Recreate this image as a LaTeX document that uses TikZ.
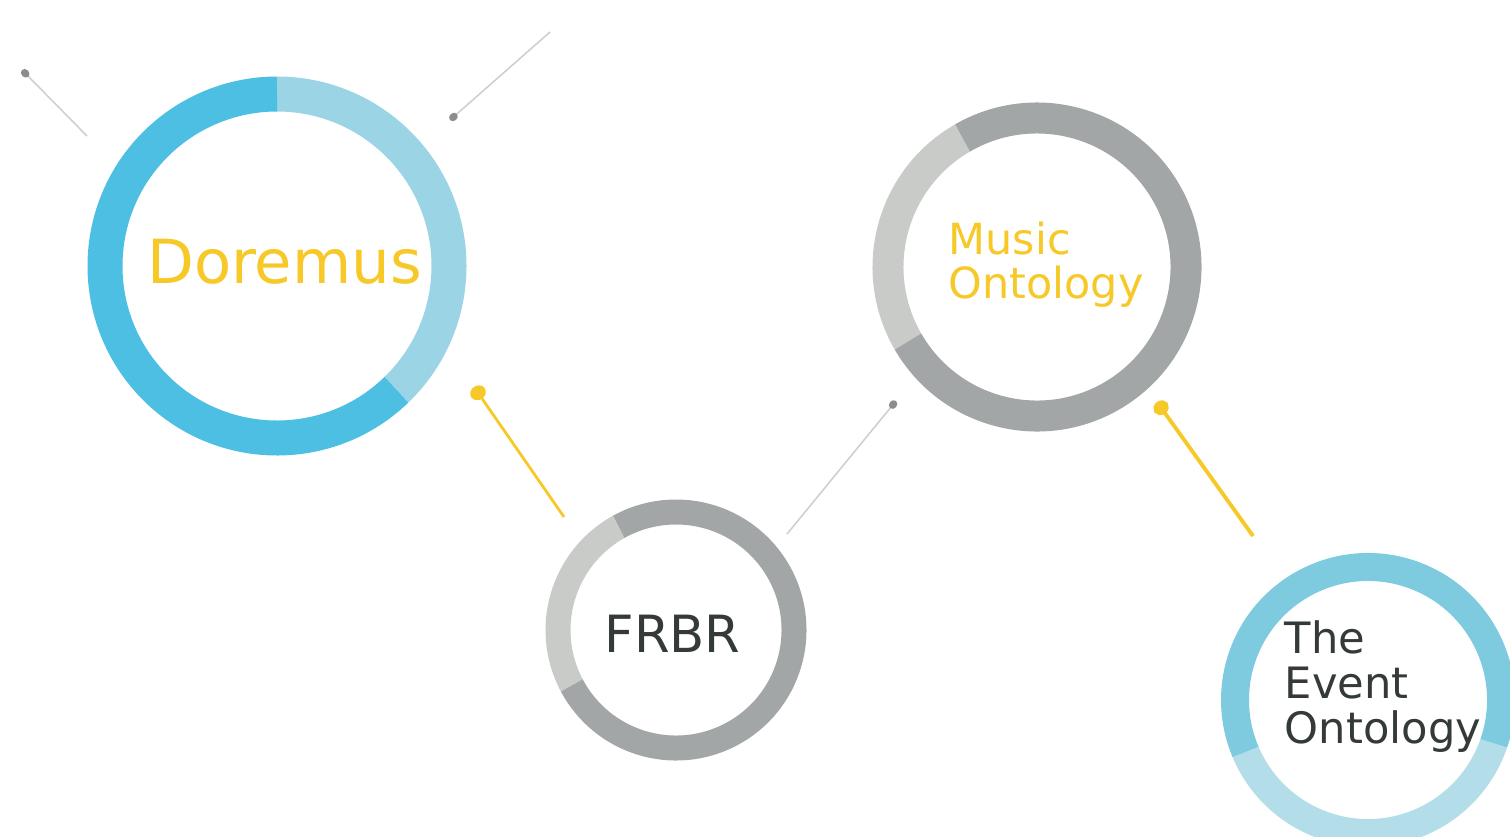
\documentclass[tikz,border=0pt]{standalone}
\usepackage{fontspec}
\setmainfont{DejaVu Sans}
\usetikzlibrary{arrows.meta}
\definecolor{bluedark}{HTML}{4DBFE2}
\definecolor{bluelight}{HTML}{9BD4E4}
\definecolor{greydark}{HTML}{A3A6A7}
\definecolor{greylight}{HTML}{C8CBC8}
\definecolor{evdark}{HTML}{7ECBE0}
\definecolor{evlight}{HTML}{B3DEE9}
\definecolor{gold}{HTML}{F6C928}
\definecolor{ink}{HTML}{343939}
\definecolor{pinline}{HTML}{CFCFCF}
\definecolor{pindot}{HTML}{8A8D8E}

\begin{document}
\begin{tikzpicture}[seg/.style={line width=#1},
  greypin/.style={draw=pinline,line width=0.45pt,-{Circle[length=2.6pt,width=2.2pt,color=pindot]}},
  goldpin/.style={draw=gold,line width=#1,-{Circle[length=4pt,width=4.6pt,color=gold]}}]
\useasboundingbox (0,0) rectangle (15.1,8.36);
\clip (0,0) rectangle (15.1,8.36);

% ring centres
\coordinate (dc) at (2.77,5.70);
\coordinate (mc) at (10.37,5.69);
\coordinate (fc) at (6.76,2.06);
\coordinate (ec) at (13.68,1.36);

% rings
\draw[seg=0.35cm,bluelight] (dc) ++(90:1.72) arc[start angle=90,end angle=-46,radius=1.72];
\draw[seg=0.35cm,bluedark] (dc) ++(-46:1.72) arc[start angle=-46,end angle=-270,radius=1.72];
\draw[seg=0.31cm,greylight] (mc) ++(120:1.49) arc[start angle=120,end angle=210,radius=1.49];
\draw[seg=0.31cm,greydark] (mc) ++(210:1.49) arc[start angle=210,end angle=480,radius=1.49];
\draw[seg=0.25cm,greylight] (fc) ++(119:1.18) arc[start angle=119,end angle=208,radius=1.18];
\draw[seg=0.25cm,greydark] (fc) ++(208:1.18) arc[start angle=208,end angle=479,radius=1.18];
\draw[seg=0.28cm,evlight] (ec) ++(203:1.33) arc[start angle=203,end angle=341,radius=1.33];
\draw[seg=0.28cm,evdark] (ec) ++(341:1.33) arc[start angle=341,end angle=563,radius=1.33];

% labels
\draw node[font=\fontsize{17.3}{20}\selectfont,text=gold,anchor=base,inner sep=0] (doremus) at (2.845,5.53) {Doremus};
\draw node[font=\fontsize{12.2}{12.3}\selectfont,text=gold,align=left,anchor=base west,inner sep=0] (music) at (9.48,5.38) {Music\\Ontology};
\draw node[font=\fontsize{14.6}{16}\selectfont,text=ink,anchor=base,inner sep=0] (frbr) at (6.725,1.84) {FRBR};
\draw node[font=\fontsize{12.3}{12.8}\selectfont,text=ink,align=left,anchor=base west,inner sep=0] (event) at (12.84,0.93) {The\\Event\\Ontology};

% pins
\coordinate (p1a) at (0.87,7.00);
\coordinate (p1b) at (0.22,7.66);
\coordinate (p2a) at (5.50,8.04);
\coordinate (p2b) at (4.50,7.16);
\coordinate (p3a) at (5.64,3.19);
\coordinate (p3b) at (4.74,4.49);
\coordinate (p4a) at (7.87,3.02);
\coordinate (p4b) at (8.96,4.35);
\coordinate (p5a) at (12.53,3.00);
\coordinate (p5b) at (11.57,4.34);
\draw[greypin] (p1a) -- (p1b);
\draw[greypin] (p2a) -- (p2b);
\draw[goldpin=0.8pt] (p3a) -- (p3b);
\draw[greypin] (p4a) -- (p4b);
\draw[goldpin=1.1pt] (p5a) -- (p5b);
\end{tikzpicture}
\end{document}
